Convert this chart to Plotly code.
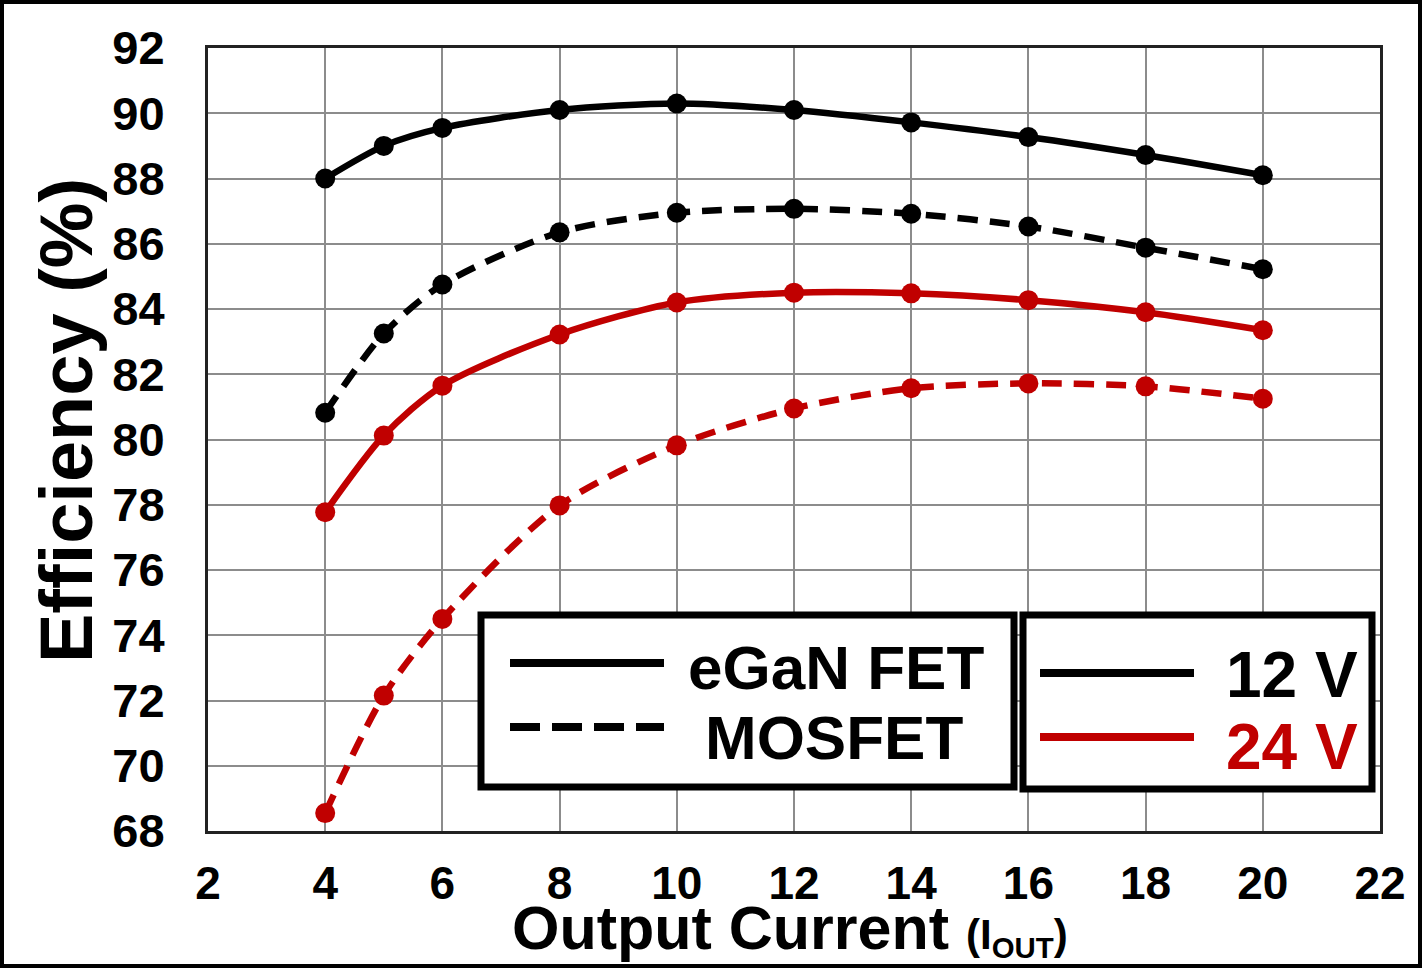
import plotly.graph_objects as go

# ---- data ----
current = [4, 5, 6, 8, 10, 12, 14, 16, 18, 20]
egan_12v = [88.0, 89.0, 89.55, 90.1, 90.3, 90.1, 89.72, 89.27, 88.72, 88.1]
mosfet_12v = [80.82, 83.25, 84.75, 86.35, 86.95, 87.07, 86.92, 86.53, 85.88, 85.22]
egan_24v = [77.77, 80.12, 81.65, 83.22, 84.2, 84.5, 84.48, 84.27, 83.9, 83.35]
mosfet_24v = [68.55, 72.15, 74.5, 77.98, 79.82, 80.95, 81.57, 81.72, 81.63, 81.25]

x_ticks = [2, 4, 6, 8, 10, 12, 14, 16, 18, 20, 22]
y_ticks = [68, 70, 72, 74, 76, 78, 80, 82, 84, 86, 88, 90, 92]

BLACK = "#000000"
RED = "#C00000"
FONT = "Liberation Sans, Arial, sans-serif"

W, H = 1422, 968
L, R, T, B = 208, 1380, 48, 831  # plot area in pixels


def px(xp):
    return (xp - L) / (R - L)


def py(yp):
    return (B - yp) / (B - T)


fig = go.Figure()

series = [
    (egan_12v, BLACK, "solid"),
    (mosfet_12v, BLACK, "20px,12px"),
    (egan_24v, RED, "solid"),
    (mosfet_24v, RED, "20px,12px"),
]
for ys, col, dash in series:
    fig.add_trace(go.Scatter(
        x=current, y=ys, mode="lines+markers",
        line=dict(color=col, width=6.5, dash=dash, shape="spline", smoothing=0.8),
        marker=dict(color=col, size=20),
        showlegend=False, cliponaxis=False,
    ))

shapes = []
# outer frame
shapes.append(dict(type="rect", xref="paper", yref="paper",
                   x0=px(2), x1=px(1420), y0=py(966), y1=py(2),
                   line=dict(color=BLACK, width=4), layer="above"))
# legend boxes
shapes.append(dict(type="rect", xref="paper", yref="paper",
                   x0=px(481), x1=px(1014), y0=py(787), y1=py(615),
                   line=dict(color=BLACK, width=7), fillcolor="white", layer="above"))
shapes.append(dict(type="rect", xref="paper", yref="paper",
                   x0=px(1023), x1=px(1372), y0=py(789), y1=py(615),
                   line=dict(color=BLACK, width=7), fillcolor="white", layer="above"))
# legend samples
shapes.append(dict(type="line", xref="paper", yref="paper",
                   x0=px(510), x1=px(664), y0=py(663), y1=py(663),
                   line=dict(color=BLACK, width=8), layer="above"))
shapes.append(dict(type="line", xref="paper", yref="paper",
                   x0=px(510), x1=px(664), y0=py(727), y1=py(727),
                   line=dict(color=BLACK, width=8, dash="30px,12px"), layer="above"))
shapes.append(dict(type="line", xref="paper", yref="paper",
                   x0=px(1040), x1=px(1194), y0=py(673), y1=py(673),
                   line=dict(color=BLACK, width=8), layer="above"))
shapes.append(dict(type="line", xref="paper", yref="paper",
                   x0=px(1040), x1=px(1194), y0=py(737), y1=py(737),
                   line=dict(color=RED, width=8), layer="above"))


def ann(text, x, y, size, color=BLACK, angle=0):
    return dict(text=text, x=px(x), y=py(y), xref="paper", yref="paper",
                xanchor="center", yanchor="middle", textangle=angle,
                showarrow=False,
                font=dict(family=FONT, size=size, color=color, weight="bold"))


annotations = [
    ann("eGaN FET", 836, 667, 62),
    ann("MOSFET", 834, 737, 62),
    ann("12 V", 1292, 675, 64),
    ann("24 V", 1292, 747, 64, RED),
    ann("Efficiency (%)", 67, 421, 74, angle=-90),
    ann("Output Current <span style='font-size:42px'>(I<sub>OUT</sub>)</span>",
        790, 929, 61),
]

fig.update_layout(
    width=W, height=H,
    margin=dict(l=L, r=W - R, t=T, b=H - B, pad=0),
    paper_bgcolor="white", plot_bgcolor="white",
    shapes=shapes, annotations=annotations,
    font=dict(family=FONT, color=BLACK),
)
fig.update_xaxes(
    range=[2, 22], tickvals=x_ticks, ticktext=[str(v) for v in x_ticks],
    showgrid=True, gridcolor="#8c8c8c", gridwidth=2,
    showline=True, linecolor="#222222", linewidth=3, mirror=True,
    ticks="outside", ticklen=10, tickcolor="rgba(0,0,0,0)",
    tickfont=dict(family=FONT, size=46, color=BLACK, weight="bold"),
    zeroline=False,
)
fig.update_yaxes(
    range=[68, 92], tickvals=y_ticks, ticktext=[str(v) for v in y_ticks],
    showgrid=True, gridcolor="#8c8c8c", gridwidth=2,
    showline=True, linecolor="#222222", linewidth=3, mirror=True,
    ticks="outside", ticklen=31, tickcolor="rgba(0,0,0,0)",
    tickfont=dict(family=FONT, size=47, color=BLACK, weight="bold"),
    zeroline=False,
)

fig.write_html("out.html", config={"displayModeBar": False},
               post_script="document.body.style.margin='0px';")
